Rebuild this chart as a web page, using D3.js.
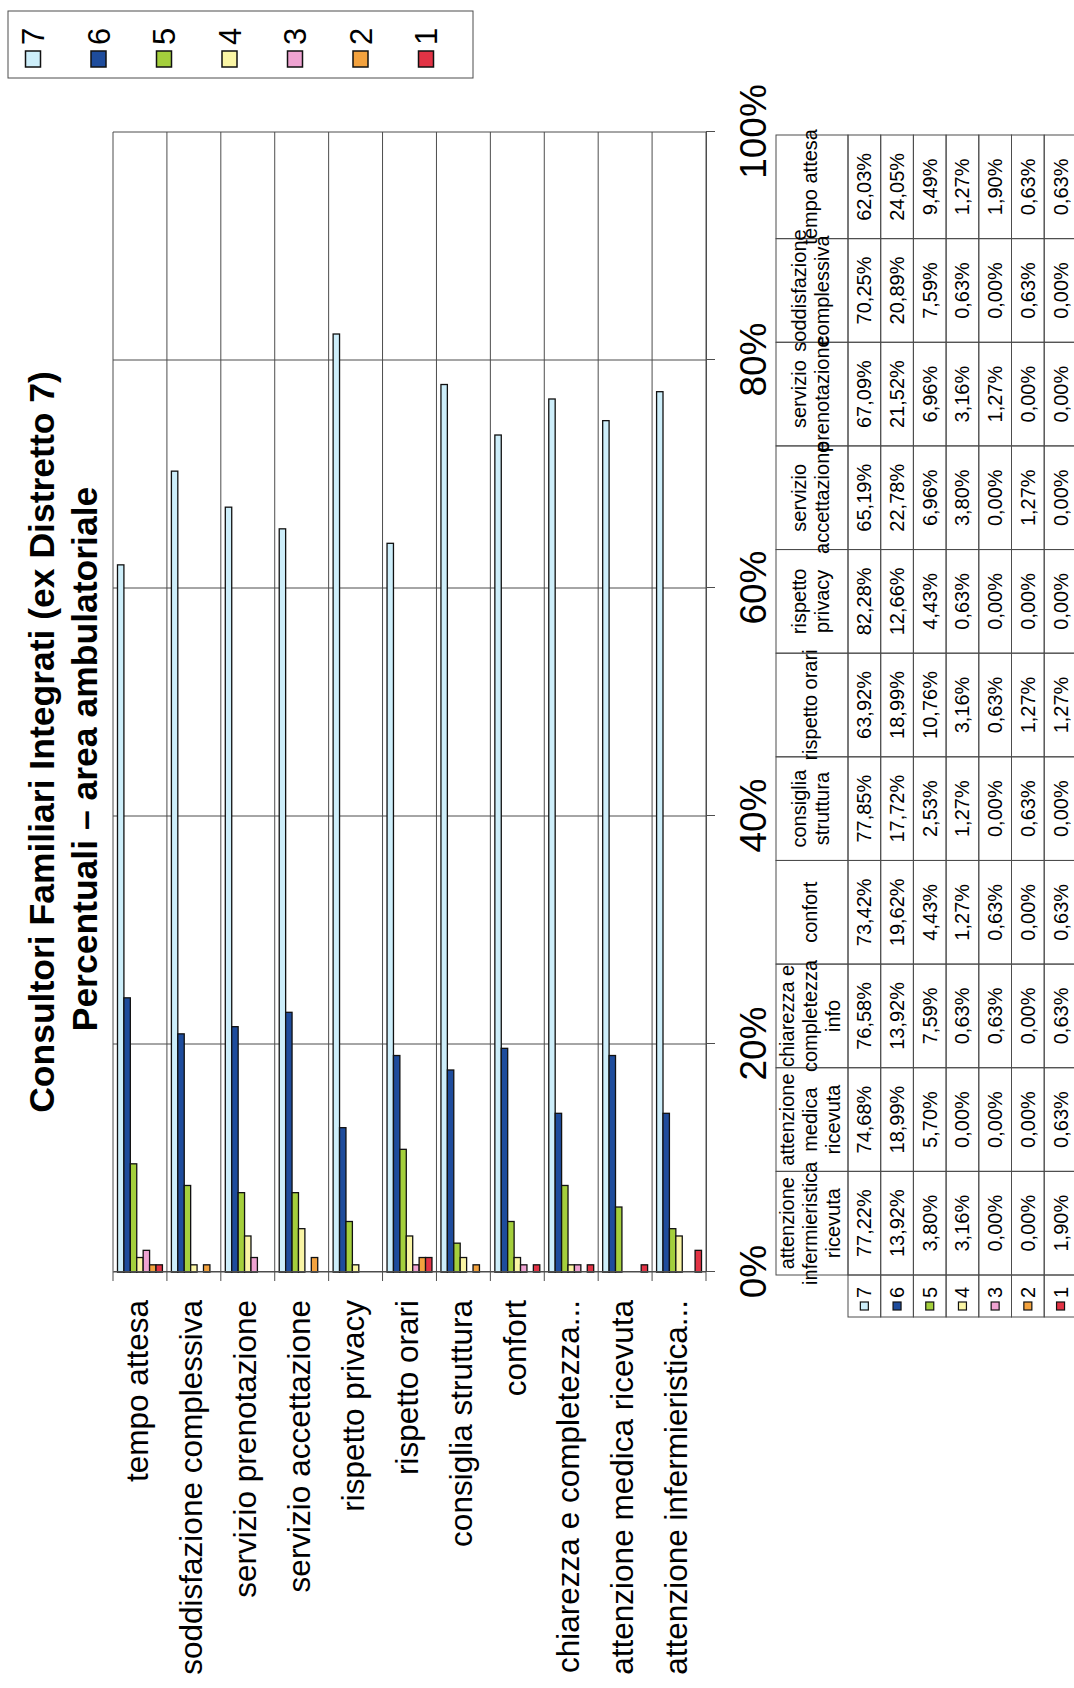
<!DOCTYPE html>
<html>
<head>
<meta charset="utf-8">
<script src="https://cdn.jsdelivr.net/npm/d3@7"></script>
<style>
  body { margin: 0; background: #fff; }
  svg { display: block; }
  text { font-family: "Liberation Sans", Arial, sans-serif; fill: #000; }
</style>
</head>
<body>
<svg id="chart" width="1074" height="1688"></svg>
<script>
// categories in sheet order (first one ends up at the far right of the scan)
const categories = [
  "attenzione infermieristica ricevuta",
  "attenzione medica ricevuta",
  "chiarezza e completezza info",
  "confort",
  "consiglia struttura",
  "rispetto orari",
  "rispetto privacy",
  "servizio accettazione",
  "servizio prenotazione",
  "soddisfazione complessiva",
  "tempo attesa"
];
const axisLabels = [
  "attenzione infermieristica...",
  "attenzione medica ricevuta",
  "chiarezza e completezza...",
  "confort",
  "consiglia struttura",
  "rispetto orari",
  "rispetto privacy",
  "servizio accettazione",
  "servizio prenotazione",
  "soddisfazione complessiva",
  "tempo attesa"
];
const headerLines = [
  ["attenzione", "infermieristica", "ricevuta"],
  ["attenzione", "medica", "ricevuta"],
  ["chiarezza e", "completezza", "info"],
  ["confort"],
  ["consiglia", "struttura"],
  ["rispetto orari"],
  ["rispetto", "privacy"],
  ["servizio", "accettazione"],
  ["servizio", "prenotazione"],
  ["soddisfazione", "complessiva"],
  ["tempo attesa"]
];

const seriesNames = ["7", "6", "5", "4", "3", "2", "1"];
const serie7 = [77.22, 74.68, 76.58, 73.42, 77.85, 63.92, 82.28, 65.19, 67.09, 70.25, 62.03];
const serie6 = [13.92, 18.99, 13.92, 19.62, 17.72, 18.99, 12.66, 22.78, 21.52, 20.89, 24.05];
const serie5 = [3.80, 5.70, 7.59, 4.43, 2.53, 10.76, 4.43, 6.96, 6.96, 7.59, 9.49];
const serie4 = [3.16, 0.00, 0.63, 1.27, 1.27, 3.16, 0.63, 3.80, 3.16, 0.63, 1.27];
const serie3 = [0.00, 0.00, 0.63, 0.63, 0.00, 0.63, 0.00, 0.00, 1.27, 0.00, 1.90];
const serie2 = [0.00, 0.00, 0.00, 0.00, 0.63, 1.27, 0.00, 1.27, 0.00, 0.63, 0.63];
const serie1 = [1.90, 0.63, 0.63, 0.63, 0.00, 1.27, 0.00, 0.00, 0.00, 0.00, 0.63];
const seriesValues = [serie7, serie6, serie5, serie4, serie3, serie2, serie1];
const colors = ["#cdeefa", "#1e4c9c", "#a4cf3c", "#faf5a5", "#efa3d2", "#f3a23e", "#e23345"];
const valueTicks = [0, 20, 40, 60, 80, 100];

const W = 1074, H = 1688;
const lineColor = "#4d4d4d";

const it = d3.formatLocale({ decimal: ",", thousands: ".", grouping: [3], currency: ["€", ""] });
const pct0 = it.format(".0%");
const pct2 = it.format(".2%");

const svg = d3.select("#chart");
svg.append("rect").attr("width", W).attr("height", H).attr("fill", "#fff");

// the page was scanned sideways: draw it upright and turn the whole thing
const g = svg.append("g").attr("transform", `translate(0, ${H}) rotate(-90)`);

const x = d3.scaleLinear().domain([0, 100]).range([416, 1556]);
const y = d3.scaleBand().domain(categories).range([706, 113]);
const ys = d3.scaleBand().domain(seriesNames).range([0, y.bandwidth()]).paddingOuter(0.7);
const yTop = 113, yBottom = 706;

// value gridlines
g.append("g")
  .selectAll("line")
  .data(valueTicks)
  .join("line")
  .attr("x1", d => x(d))
  .attr("x2", d => x(d))
  .attr("y1", yTop)
  .attr("y2", yBottom)
  .attr("stroke", lineColor)
  .attr("stroke-width", 1);

// category separators (gridline + tick)
const edges = categories.map(c => y(c)).concat([y(categories[0]) + y.bandwidth()]);
g.append("g")
  .selectAll("line")
  .data(edges)
  .join("line")
  .attr("x1", x(0) - 9)
  .attr("x2", x(100))
  .attr("y1", d => d)
  .attr("y2", d => d)
  .attr("stroke", lineColor)
  .attr("stroke-width", 1);

// bars
const series = seriesNames.map((name, i) => ({ name, color: colors[i], values: seriesValues[i] }));
g.append("g")
  .selectAll("g")
  .data(series)
  .join("g")
  .attr("fill", d => d.color)
  .selectAll("rect")
  .data(d => d.values.map((v, j) => ({ name: d.name, cat: categories[j], v })))
  .join("rect")
  .attr("x", x(0))
  .attr("y", d => y(d.cat) + ys(d.name))
  .attr("width", d => x(d.v) - x(0))
  .attr("height", ys.bandwidth())
  .attr("stroke", d => d.v > 0 ? "#111" : "none")
  .attr("stroke-width", 1.3);

// category axis
const catAxis = g.append("g")
  .attr("transform", `translate(${x(0)}, 0)`)
  .call(d3.axisLeft(y).tickSize(0).tickPadding(28).tickSizeOuter(0).tickFormat((d, i) => axisLabels[i]));
catAxis.select(".domain").attr("stroke", lineColor);
catAxis.selectAll("text")
  .attr("dy", "0.26em")
  .attr("font-size", 31.5)
  .attr("font-family", "Liberation Sans, Arial, sans-serif");

// value axis
const valAxis = g.append("g")
  .attr("transform", `translate(0, ${yBottom})`)
  .call(d3.axisBottom(x).tickValues(valueTicks).tickSize(9).tickSizeOuter(0).tickFormat(d => pct0(d / 100)));
valAxis.selectAll("line, .domain").attr("stroke", lineColor);
valAxis.selectAll("text")
  .attr("y", 60)
  .attr("dy", 0)
  .attr("font-size", 37)
  .attr("font-family", "Liberation Sans, Arial, sans-serif");

// title
const title = g.append("g").attr("font-weight", "bold").attr("font-size", 35.5).attr("text-anchor", "middle");
title.append("text").attr("x", 946).attr("y", 54).text("Consultori Familiari Integrati (ex Distretto 7)");
title.append("text").attr("x", 929).attr("y", 97).text("Percentuali \u2013 area ambulatoriale");

// data table
const col = d3.scaleBand().domain(categories).range([413, 1553]);
const headTop = 776, rowTop = 848, rowH = 32.7, keyLeft = 371;
const table = g.append("g").attr("font-size", 20);

table.append("g")
  .selectAll("rect")
  .data(categories)
  .join("rect")
  .attr("x", d => col(d))
  .attr("y", headTop)
  .attr("width", col.bandwidth())
  .attr("height", rowTop - headTop)
  .attr("fill", "none")
  .attr("stroke", lineColor);

const headText = table.append("g").attr("text-anchor", "middle");
categories.forEach((c, j) => {
  const lines = headerLines[j];
  lines.forEach((ln, k) => {
    headText.append("text")
      .attr("x", col(c) + col.bandwidth() / 2)
      .attr("y", 810 + (k - (lines.length - 1) / 2) * 23)
      .attr("dy", "0.35em")
      .text(ln);
  });
});

const rows = table.append("g")
  .selectAll("g")
  .data(series)
  .join("g")
  .attr("transform", (d, i) => `translate(0, ${rowTop + i * rowH})`);

rows.append("rect")
  .attr("x", keyLeft)
  .attr("y", 0)
  .attr("width", col.range()[0] - keyLeft)
  .attr("height", rowH)
  .attr("fill", "none")
  .attr("stroke", lineColor);

rows.append("rect")
  .attr("x", keyLeft + 7)
  .attr("y", rowH / 2 - 4)
  .attr("width", 8)
  .attr("height", 8)
  .attr("fill", d => d.color)
  .attr("stroke", "#111")
  .attr("stroke-width", 1.2);

rows.append("text")
  .attr("x", keyLeft + 19)
  .attr("y", rowH / 2)
  .attr("dy", "0.35em")
  .text(d => d.name);

rows.selectAll("rect.cell")
  .data(d => d.values.map((v, j) => ({ v, cat: categories[j] })))
  .join("rect")
  .attr("class", "cell")
  .attr("x", d => col(d.cat))
  .attr("y", 0)
  .attr("width", col.bandwidth())
  .attr("height", rowH)
  .attr("fill", "none")
  .attr("stroke", lineColor);

rows.selectAll("text.val")
  .data(d => d.values.map((v, j) => ({ v, cat: categories[j] })))
  .join("text")
  .attr("class", "val")
  .attr("x", d => col(d.cat) + col.bandwidth() / 2)
  .attr("y", rowH / 2)
  .attr("dy", "0.35em")
  .attr("text-anchor", "middle")
  .text(d => pct2(d.v / 100));

// legend
const legX0 = 33, legStep = 65.5;
const legend = g.append("g");
legend.append("rect")
  .attr("x", 1610)
  .attr("y", 8)
  .attr("width", 67)
  .attr("height", 465)
  .attr("fill", "#fff")
  .attr("stroke", lineColor);

const legItems = legend.selectAll("g")
  .data(series)
  .join("g")
  .attr("transform", (d, i) => `translate(0, ${legX0 + i * legStep})`);

legItems.append("rect")
  .attr("x", 1621)
  .attr("y", -7.5)
  .attr("width", 16)
  .attr("height", 15)
  .attr("fill", d => d.color)
  .attr("stroke", "#111")
  .attr("stroke-width", 1.5);

legItems.append("text")
  .attr("x", 1643)
  .attr("y", 0)
  .attr("dy", "0.36em")
  .attr("font-size", 31)
  .text(d => d.name);
</script>
</body>
</html>
